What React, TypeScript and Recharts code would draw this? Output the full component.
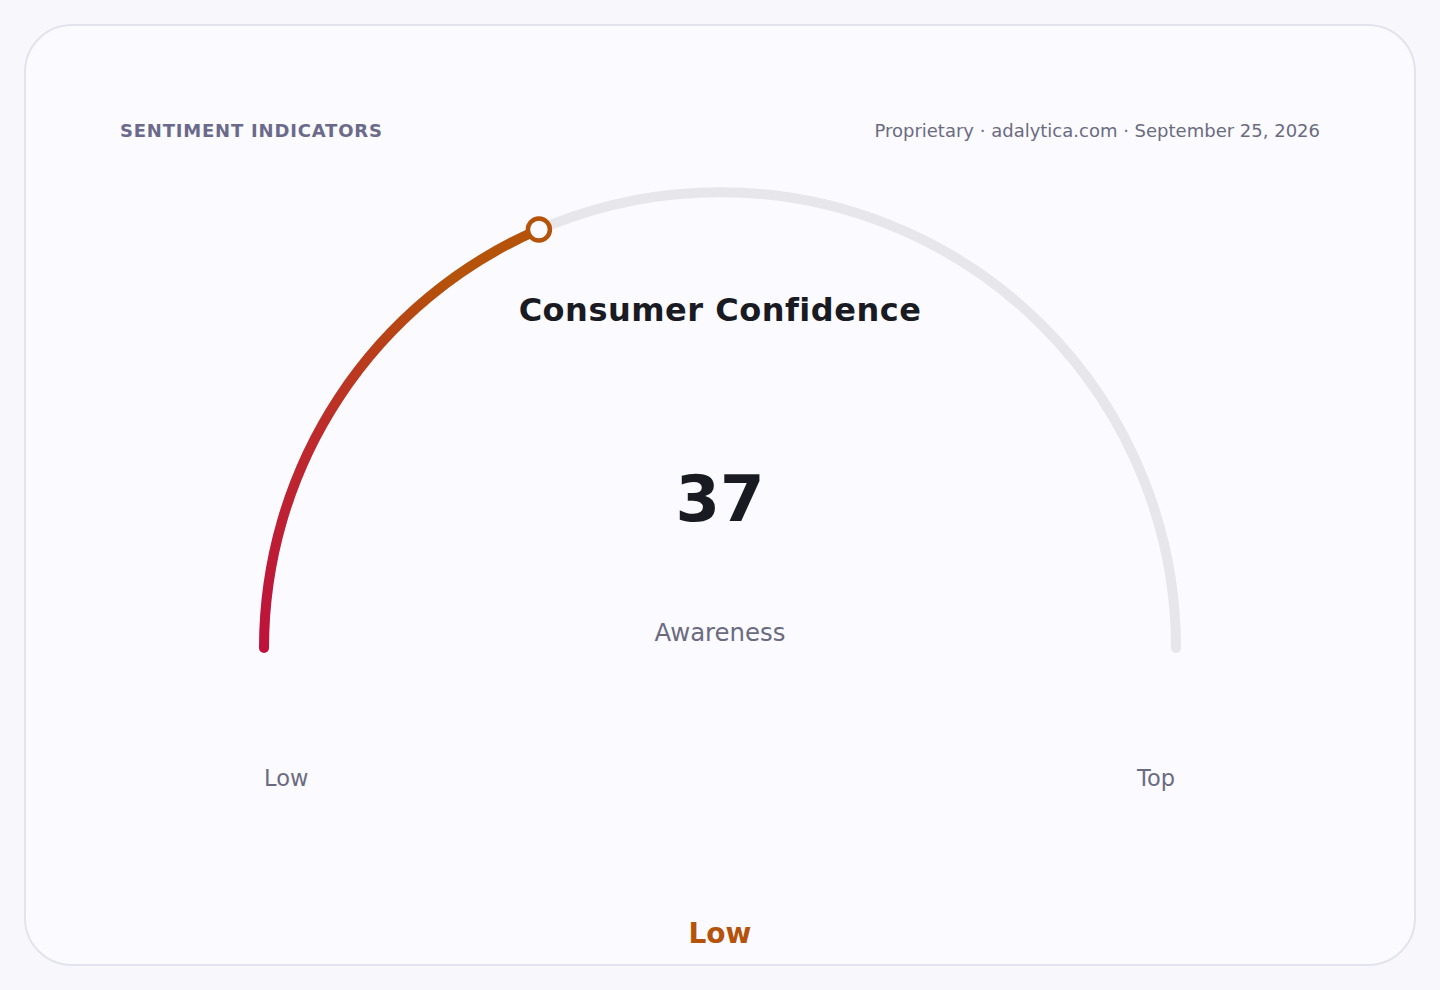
import React from 'react';
import { RadialBarChart, RadialBar, PolarAngleAxis } from 'recharts';

const gaugeData = [{ name: 'Consumer Confidence', value: 37 }];
const gaugeDomain = [0, 100];
const rangeLabels = ['Low', 'Top'];
const metricLabel = 'Awareness';
const bandLabel = 'Low';
const headerLeft = 'SENTIMENT INDICATORS';
const headerRight = 'Proprietary · adalytica.com · September 25, 2026';

const FONT = '"DejaVu Sans", Verdana, sans-serif';
const CARD_W = 1392;
const CARD_H = 942;
const CX = 696;
const CY = 624;
const START_ANGLE = 180;
const END_ANGLE = 0;
const STROKE = 10;

const RAD = Math.PI / 180;
const pt = (cx: number, cy: number, r: number, a: number) => ({
  x: cx + r * Math.cos(a * RAD),
  y: cy - r * Math.sin(a * RAD),
});

const arcPath = (cx: number, cy: number, r: number, a0: number, a1: number) => {
  const p0 = pt(cx, cy, r, a0);
  const p1 = pt(cx, cy, r, a1);
  const large = Math.abs(a1 - a0) > 180 ? 1 : 0;
  const sweep = a1 < a0 ? 1 : 0;
  return `M ${p0.x} ${p0.y} A ${r} ${r} 0 ${large} ${sweep} ${p1.x} ${p1.y}`;
};

const ValueShape = (props: any) => {
  const { cx, cy, innerRadius, outerRadius, startAngle, endAngle, background } = props;
  const r = (innerRadius + outerRadius) / 2;
  const end = pt(cx, cy, r, endAngle);
  const tStart = background && background.startAngle != null ? background.startAngle : START_ANGLE;
  const tEnd = background && background.endAngle != null ? background.endAngle : END_ANGLE;
  return (
    <g>
      <path
        d={arcPath(cx, cy, r, tStart, tEnd)}
        fill="none"
        stroke="#e6e6eb"
        strokeWidth={STROKE}
        strokeLinecap="round"
      />
      <path
        d={arcPath(cx, cy, r, startAngle, endAngle)}
        fill="none"
        stroke="url(#gaugeGrad)"
        strokeWidth={STROKE}
        strokeLinecap="round"
      />
      <circle cx={end.x} cy={end.y} r={11} fill="#fafaff" stroke="#b45309" strokeWidth={4.5} />
    </g>
  );
};

export default function App() {
  return (
    <div
      style={{
        position: 'fixed',
        left: 0,
        top: 0,
        width: 1440,
        height: 990,
        background: '#f8f8fc',
        fontFamily: FONT,
      }}
    >
      <div
        style={{
          position: 'absolute',
          left: 24,
          top: 24,
          width: CARD_W,
          height: CARD_H,
          boxSizing: 'border-box',
          border: '2px solid #e3e3ee',
          borderRadius: 48,
          background: '#fafaff',
          overflow: 'hidden',
        }}
      >
        <div style={{ position: 'absolute', left: -2, top: -2 }}>
          <RadialBarChart
            width={CARD_W}
            height={CARD_H}
            cx={CX}
            cy={CY}
            innerRadius={451}
            outerRadius={461}
            startAngle={START_ANGLE}
            endAngle={END_ANGLE}
            data={gaugeData}
            barCategoryGap={0}
            margin={{ top: 0, right: 0, bottom: 0, left: 0 }}
          >
            <defs>
              <linearGradient id="gaugeGrad" x1="0" y1="1" x2="0.4" y2="0">
                <stop offset="0%" stopColor="#be123c" />
                <stop offset="50%" stopColor="#bd2a2c" />
                <stop offset="100%" stopColor="#b45309" />
              </linearGradient>
            </defs>
            <PolarAngleAxis type="number" domain={gaugeDomain} tick={false} axisLine={false} />
            <RadialBar
              dataKey="value"
              isAnimationActive={false}
              background={{ fill: 'transparent' }}
              shape={(p: any) => <ValueShape {...p} />}
            />
          </RadialBarChart>
        </div>
        <svg
          width={CARD_W}
          height={CARD_H}
          style={{ position: 'absolute', left: -2, top: -2, pointerEvents: 'none' }}
        >
          <g transform="translate(-24,-24)" fontFamily={FONT}>
            <text x={120} y={137} fontSize={18} fontWeight={700} fill="#6b6a8a" letterSpacing={0.8}>
              {headerLeft}
            </text>
            <text x={1320} y={137} fontSize={18} fill="#6b6b80" textAnchor="end">
              {headerRight}
            </text>
            <text x={720} y={321} fontSize={32} fontWeight={700} fill="#1a1a22" textAnchor="middle" letterSpacing={0.5}>
              {gaugeData[0].name}
            </text>
            <text x={720} y={521} fontSize={64} fontWeight={700} fill="#1a1a22" textAnchor="middle">
              {gaugeData[0].value}
            </text>
            <text x={720} y={641} fontSize={24.4} fill="#6b6b80" textAnchor="middle">
              {metricLabel}
            </text>
            <text x={264} y={786} fontSize={22.5} fill="#6b6b80" textAnchor="start">
              {rangeLabels[0]}
            </text>
            <text x={1175} y={786} fontSize={22.5} fill="#6b6b80" textAnchor="end">
              {rangeLabels[1]}
            </text>
            <text x={720} y={943} fontSize={28} fontWeight={700} fill="#b45309" textAnchor="middle">
              {bandLabel}
            </text>
          </g>
        </svg>
      </div>
    </div>
  );
}
